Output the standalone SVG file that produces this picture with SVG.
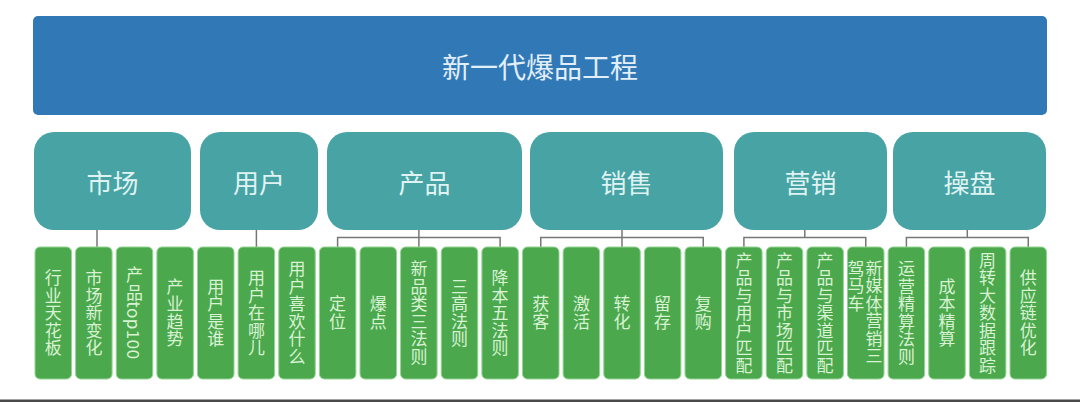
<svg xmlns="http://www.w3.org/2000/svg" width="1080" height="402" viewBox="0 0 1080 402">
<style>
.cjk{font-family:"Noto Sans CJK SC","Noto Sans",sans-serif}
.top{fill:#3179b6}
.cat{fill:#48a3a5}
.leaf{fill:#4ca84d;stroke:#92d592;stroke-width:1}
.t1{font-size:28px;fill:#e2eff9;text-anchor:middle;dominant-baseline:central}
.t2{font-size:26px;fill:#dff3f2;text-anchor:middle;dominant-baseline:central}
.t3{font-size:17px;fill:#d8f2d4;writing-mode:vertical-rl;text-anchor:middle;letter-spacing:0.5px}
.t3s{font-size:17px;fill:#d8f2d4;writing-mode:vertical-rl;text-anchor:start;letter-spacing:0.5px}
.conn{stroke:#777;stroke-width:1.5;fill:none}
</style>
<rect width="1080" height="402" fill="#ffffff"/>
<g id="root"><rect class="top" x="33" y="16" width="1014" height="99" rx="5"/><text class="cjk t1" x="540" y="66">新一代爆品工程</text></g>
<g id="cat-market"><rect class="cat" x="34" y="132" width="157" height="98" rx="20"/><text class="cjk t2" x="112.5" y="181">市场</text></g>
<g id="cat-user"><rect class="cat" x="200" y="132" width="118" height="98" rx="20"/><text class="cjk t2" x="259" y="181">用户</text></g>
<g id="cat-product"><rect class="cat" x="327" y="132" width="195" height="98" rx="20"/><text class="cjk t2" x="424.5" y="181">产品</text></g>
<g id="cat-sales"><rect class="cat" x="530" y="132" width="193" height="98" rx="20"/><text class="cjk t2" x="626.5" y="181">销售</text></g>
<g id="cat-marketing"><rect class="cat" x="734" y="132" width="153" height="98" rx="20"/><text class="cjk t2" x="810.5" y="181">营销</text></g>
<g id="cat-ops"><rect class="cat" x="893" y="132" width="153" height="98" rx="20"/><text class="cjk t2" x="969.5" y="181">操盘</text></g>
<g id="connectors">
<line class="conn" x1="97" y1="230" x2="97" y2="247"/>
<line class="conn" x1="256.4" y1="230" x2="256.4" y2="247"/>
<polyline class="conn" points="337.6,247 337.6,237.5 500.1,237.5 500.1,247"/><line class="conn" x1="418.9" y1="230" x2="418.9" y2="247"/>
<polyline class="conn" points="540.75,247 540.75,237.5 703.25,237.5 703.25,247"/><line class="conn" x1="622" y1="230" x2="622" y2="247"/>
<polyline class="conn" points="743.9,247 743.9,237.5 865.75,237.5 865.75,247"/><line class="conn" x1="804.8" y1="230" x2="804.8" y2="237.5"/>
<polyline class="conn" points="906.4,247 906.4,237.5 1028.25,237.5 1028.25,247"/><line class="conn" x1="967.3" y1="230" x2="967.3" y2="237.5"/>
</g>
<g id="l0"><rect class="leaf" x="35" y="247" width="36.5" height="132" rx="5"/><text class="cjk t3" x="53.25" y="313">行业天花板</text></g>
<g id="l1"><rect class="leaf" x="75.6" y="247" width="36.5" height="132" rx="5"/><text class="cjk t3" x="93.9" y="313">市场新变化</text></g>
<g id="l2"><rect class="leaf" x="116.25" y="247" width="36.5" height="132" rx="5"/><text class="cjk t3" x="134.5" y="313">产品top100</text></g>
<g id="l3"><rect class="leaf" x="156.9" y="247" width="36.5" height="132" rx="5"/><text class="cjk t3" x="175.1" y="313">产业趋势</text></g>
<g id="l4"><rect class="leaf" x="197.5" y="247" width="36.5" height="132" rx="5"/><text class="cjk t3" x="215.75" y="313">用户是谁</text></g>
<g id="l5"><rect class="leaf" x="238.1" y="247" width="36.5" height="132" rx="5"/><text class="cjk t3" x="256.4" y="313">用户在哪儿</text></g>
<g id="l6"><rect class="leaf" x="278.75" y="247" width="36.5" height="132" rx="5"/><text class="cjk t3" x="297" y="313">用户喜欢什么</text></g>
<g id="l7"><rect class="leaf" x="319.4" y="247" width="36.5" height="132" rx="5"/><text class="cjk t3" x="337.6" y="313">定位</text></g>
<g id="l8"><rect class="leaf" x="360" y="247" width="36.5" height="132" rx="5"/><text class="cjk t3" x="378.25" y="313">爆点</text></g>
<g id="l9"><rect class="leaf" x="400.6" y="247" width="36.5" height="132" rx="5"/><text class="cjk t3" x="418.9" y="313">新品类三法则</text></g>
<g id="l10"><rect class="leaf" x="441.25" y="247" width="36.5" height="132" rx="5"/><text class="cjk t3" x="459.5" y="313">三高法则</text></g>
<g id="l11"><rect class="leaf" x="481.9" y="247" width="36.5" height="132" rx="5"/><text class="cjk t3" x="500.1" y="313">降本五法则</text></g>
<g id="l12"><rect class="leaf" x="522.5" y="247" width="36.5" height="132" rx="5"/><text class="cjk t3" x="540.75" y="313">获客</text></g>
<g id="l13"><rect class="leaf" x="563.1" y="247" width="36.5" height="132" rx="5"/><text class="cjk t3" x="581.4" y="313">激活</text></g>
<g id="l14"><rect class="leaf" x="603.75" y="247" width="36.5" height="132" rx="5"/><text class="cjk t3" x="622" y="313">转化</text></g>
<g id="l15"><rect class="leaf" x="644.4" y="247" width="36.5" height="132" rx="5"/><text class="cjk t3" x="662.6" y="313">留存</text></g>
<g id="l16"><rect class="leaf" x="685" y="247" width="36.5" height="132" rx="5"/><text class="cjk t3" x="703.25" y="313">复购</text></g>
<g id="l17"><rect class="leaf" x="725.6" y="247" width="36.5" height="132" rx="5"/><text class="cjk t3" x="743.9" y="313">产品与用户匹配</text></g>
<g id="l18"><rect class="leaf" x="766.25" y="247" width="36.5" height="132" rx="5"/><text class="cjk t3" x="784.5" y="313">产品与市场匹配</text></g>
<g id="l19"><rect class="leaf" x="806.9" y="247" width="36.5" height="132" rx="5"/><text class="cjk t3" x="825.1" y="313">产品与渠道匹配</text></g>
<g id="l20"><rect class="leaf" x="847.5" y="247" width="36.5" height="132" rx="5"/><text class="cjk t3s" x="874" y="260">新媒体营销三</text><text class="cjk t3s" x="856" y="260">驾马车</text></g>
<g id="l21"><rect class="leaf" x="888.1" y="247" width="36.5" height="132" rx="5"/><text class="cjk t3" x="906.4" y="313">运营精算法则</text></g>
<g id="l22"><rect class="leaf" x="928.75" y="247" width="36.5" height="132" rx="5"/><text class="cjk t3" x="947" y="313">成本精算</text></g>
<g id="l23"><rect class="leaf" x="969.4" y="247" width="36.5" height="132" rx="5"/><text class="cjk t3" x="987.6" y="313">周转大数据跟踪</text></g>
<g id="l24"><rect class="leaf" x="1010" y="247" width="36.5" height="132" rx="5"/><text class="cjk t3" x="1028.25" y="313">供应链优化</text></g>
<rect x="0" y="399.5" width="1080" height="2.5" fill="#4a4a4a"/>
</svg>
